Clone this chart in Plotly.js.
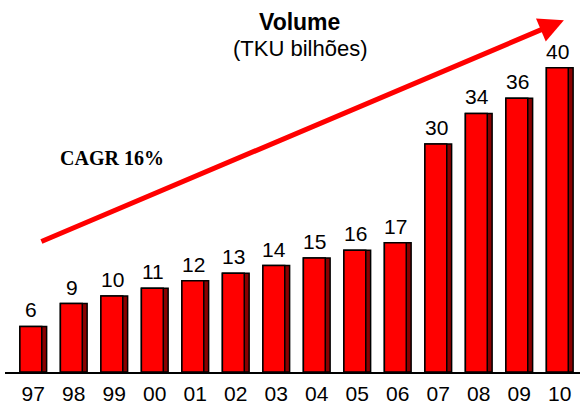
<!DOCTYPE html>
<html>
<head>
<meta charset="utf-8">
<script src="https://cdn.plot.ly/plotly-3.0.1.min.js"></script>
<style>html,body{margin:0;padding:0;background:#fff;}#chart{width:582px;height:409px;}</style>
</head>
<body>
<div id="chart"></div>
<script>
const years = ["97","98","99","00","01","02","03","04","05","06","07","08","09","10"];
const volume = [6, 9, 10, 11, 12, 13, 14, 15, 16, 17, 30, 34, 36, 40];

const shadow = {
  type: 'bar', x: years, y: volume,
  width: 0.66, offset: -0.33,
  marker: {color: '#8a0000', line: {color: '#000', width: 1.5}},
  hoverinfo: 'skip', showlegend: false
};
const front = {
  type: 'bar', x: years, y: volume,
  width: 0.54, offset: -0.33,
  marker: {color: '#ff0000', line: {color: '#000', width: 1.5}},
  showlegend: false
};

const valueLabels = years.map((c, i) => ({
  x: i, y: volume[i], xref: 'x', yref: 'y', text: String(volume[i]),
  showarrow: false, yanchor: 'bottom', yshift: 3, xshift: -2,
  font: {family: 'Liberation Sans, Arial, sans-serif', size: 21, color: '#000'}
}));

const layout = {
  width: 582, height: 409,
  margin: {l: 5, r: 2, t: 7, b: 37},
  paper_bgcolor: '#fff', plot_bgcolor: '#fff',
  barmode: 'overlay',
  xaxis: {
    type: 'category', range: [-0.698, 13.5],
    showgrid: false, zeroline: false,
    showline: true, linecolor: '#000', linewidth: 2,
    ticks: 'outside', ticklen: 2, tickcolor: 'rgba(0,0,0,0)',
    tickfont: {family: 'Liberation Sans, Arial, sans-serif', size: 21, color: '#000'},
    fixedrange: true
  },
  yaxis: {
    range: [0, 48], visible: false, showgrid: false, zeroline: false, fixedrange: true
  },
  annotations: valueLabels.concat([
    {xref: 'paper', yref: 'paper', x: 0.513, y: 1.0, yanchor: 'top', showarrow: false,
     text: '<b>Volume</b>', font: {family: 'Liberation Sans, Arial, sans-serif', size: 23, color: '#000'}},
    {xref: 'paper', yref: 'paper', x: 0.513, y: 0.926, yanchor: 'top', showarrow: false,
     text: '(TKU bilhões)', font: {family: 'Liberation Sans, Arial, sans-serif', size: 22, color: '#000'}},
    {xref: 'paper', yref: 'paper', x: 0.092, y: 0.587, xanchor: 'left', showarrow: false,
     text: '<b>CAGR 16%</b>', font: {family: 'Liberation Serif, Times New Roman, serif', size: 20, color: '#000'}},
    {xref: 'paper', yref: 'paper', x: 0.972, y: 0.964, showarrow: true,
     ax: -524, ay: 222, axref: 'pixel', ayref: 'pixel',
     arrowhead: 2, arrowsize: 1, arrowwidth: 5, arrowcolor: '#ff0000', text: ''}
  ])
};

Plotly.newPlot('chart', [shadow, front], layout, {displayModeBar: false, staticPlot: true});
</script>
</body>
</html>
